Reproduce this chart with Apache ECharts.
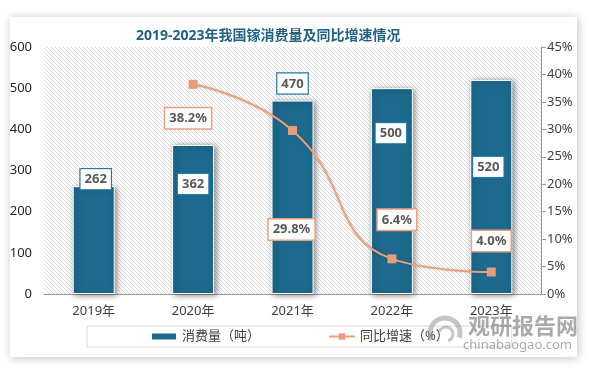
<!DOCTYPE html>
<html>
<head>
<meta charset="utf-8">
<script src="https://cdn.jsdelivr.net/npm/echarts@6/dist/echarts.min.js"></script>
<style>
html,body{margin:0;padding:0;background:#fff;}
#c{width:591px;height:368px;}
</style>
</head>
<body>
<div id="c"></div>
<script>
var categories = ['2019年', '2020年', '2021年', '2022年', '2023年'];
var consumption = [262, 362, 470, 500, 520];
var growth = [null, 38.2, 29.8, 6.4, 4.0];
var titleText = '2019-2023年我国镓消费量及同比增速情况';
var barName = '消费量（吨）';
var lineName = '同比增速（%）';

// label placement (layout only)
var barLabelOffsets = [[2, 3], [0, 49], [0, -7], [-1, 55], [-3, 97]];
var lineLabelOffsets = [null, [-5, 34], [-1, 99], [5, -39], [0, -31]];

function hatch() {
  var c = document.createElement('canvas');
  c.width = 4; c.height = 4;
  var g = c.getContext('2d');
  g.fillStyle = '#ffffff';
  g.fillRect(0, 0, 4, 4);
  g.strokeStyle = '#d9d9d9';
  g.lineWidth = 1;
  g.beginPath();
  g.moveTo(-1, -1); g.lineTo(5, 5);
  g.moveTo(-1, 3); g.lineTo(1, 5);
  g.moveTo(3, -1); g.lineTo(5, 1);
  g.stroke();
  return c;
}

var font = "'Noto Sans', 'Noto Sans CJK SC', sans-serif";
var BLUE = '#1c6a8e';
var ORANGE = '#eea07c';

var chart = echarts.init(document.getElementById('c'), null, {renderer: 'canvas'});

var barData = consumption.map(function (v, i) {
  return {
    value: v,
    label: {offset: barLabelOffsets[i]}
  };
});
var lineData = growth.map(function (v, i) {
  if (v === null) return null;
  return {
    value: v,
    label: {offset: lineLabelOffsets[i]}
  };
});

chart.setOption({
  backgroundColor: '#ffffff',
  textStyle: {fontFamily: font},
  title: {
    text: titleText,
    left: 131,
    top: 24,
    textStyle: {fontSize: 14, fontWeight: 'bold', color: '#1f6284', fontFamily: font}
  },
  grid: {
    left: 44, right: 50, top: 47, bottom: 74,
    show: true,
    borderWidth: 0,
    backgroundColor: {image: hatch(), repeat: 'repeat'}
  },
  legend: {
    left: 87,
    top: 326,
    padding: [4, 63],
    borderColor: '#d9d9d9',
    borderWidth: 1,
    itemGap: 68,
    itemWidth: 26,
    itemHeight: 8,
    textStyle: {fontSize: 13, color: '#404040', fontFamily: font},
    data: [
      {name: barName, icon: 'rect'},
      {name: lineName}
    ]
  },
  xAxis: {
    type: 'category',
    data: categories,
    axisLine: {lineStyle: {color: '#9a9a9a', width: 1}},
    axisTick: {show: false},
    axisLabel: {fontSize: 13, color: '#404040', margin: 11}
  },
  yAxis: [
    {
      type: 'value',
      min: 0, max: 600, interval: 100,
      axisLine: {show: false},
      axisTick: {show: false},
      splitLine: {show: false},
      axisLabel: {fontSize: 13, color: '#262626', margin: 12}
    },
    {
      type: 'value',
      min: 0, max: 45, interval: 5,
      position: 'right',
      axisLine: {show: true, lineStyle: {color: '#9a9a9a'}},
      axisTick: {show: true, length: 5, lineStyle: {color: '#9a9a9a'}},
      splitLine: {show: false},
      axisLabel: {fontSize: 13, color: '#404040', margin: 6, formatter: '{value}%'}
    }
  ],
  series: [
    {
      name: barName,
      type: 'bar',
      data: barData,
      barWidth: 42,
      itemStyle: {
        color: BLUE,
        borderColor: '#ffffff',
        borderWidth: 1,
        shadowColor: 'rgba(0,0,0,0.45)',
        shadowBlur: 6,
        shadowOffsetX: 2,
        shadowOffsetY: 1
      },
      label: {
        show: true,
        position: 'top',
        distance: 0,
        backgroundColor: '#ffffff',
        borderColor: '#2279ab',
        borderWidth: 1.2,
        padding: [4, 4, 3, 4],
        fontSize: 13,
        fontWeight: 'bold',
        color: '#595959',
        fontFamily: font
      }
    },
    {
      name: lineName,
      type: 'line',
      yAxisIndex: 1,
      data: lineData,
      smooth: 0.5,
      symbol: 'rect',
      symbolSize: 9,
      showSymbol: true,
      lineStyle: {color: ORANGE, width: 2, shadowColor: 'rgba(0,0,0,0.2)', shadowBlur: 3},
      itemStyle: {color: '#e99b7b'},
      label: {
        show: true,
        position: 'inside',
        formatter: function (p) { return p.value.toFixed(1) + '%'; },
        backgroundColor: '#ffffff',
        borderColor: '#ee9f7c',
        borderWidth: 1.5,
        padding: [4, 4, 3, 4],
        fontSize: 13,
        fontWeight: 'bold',
        color: '#595959',
        fontFamily: font
      },
      z: 5
    }
  ],
  graphic: [
    {
      type: 'rect',
      z: -100,
      shape: {x: 10, y: 17, width: 567, height: 340},
      style: {fill: '#ffffff', shadowColor: 'rgba(0,0,0,0.25)', shadowBlur: 9, shadowOffsetX: 1, shadowOffsetY: 1}
    },
    {
      type: 'arc',
      z: 100,
      shape: {cx: 445, cy: 333, r: 15, startAngle: Math.PI * 0.85, endAngle: Math.PI * 2.1},
      style: {stroke: 'rgba(150,150,150,0.55)', lineWidth: 5, fill: null}
    },
    {
      type: 'arc',
      z: 100,
      shape: {cx: 446, cy: 334, r: 7, startAngle: Math.PI * 1.1, endAngle: Math.PI * 2.4},
      style: {stroke: 'rgba(150,150,150,0.55)', lineWidth: 3, fill: null}
    },
    {
      type: 'text',
      z: 100,
      left: 468,
      top: 315,
      style: {text: '观研报告网', fill: 'rgba(140,140,140,0.75)', font: "bold 22px 'Noto Sans CJK SC', sans-serif"}
    },
    {
      type: 'text',
      z: 100,
      left: 463,
      top: 339,
      style: {text: 'chinabaogao.com', fill: 'rgba(140,140,140,0.75)', font: "13px 'Noto Sans', sans-serif"}
    }
  ]
});
</script>
</body>
</html>
